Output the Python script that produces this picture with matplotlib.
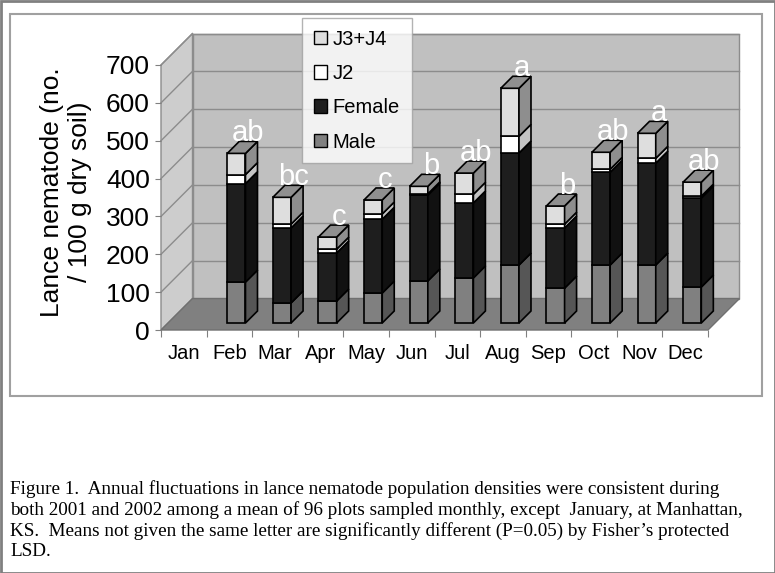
import numpy as np
import matplotlib
matplotlib.use("Agg")
import matplotlib.pyplot as plt
from matplotlib.patches import Polygon, Rectangle, Patch

# data (Jan was not sampled)
months = ["Jan", "Feb", "Mar", "Apr", "May", "Jun", "Jul", "Aug", "Sep", "Oct", "Nov", "Dec"]
male = [np.nan, 108, 53, 58, 79, 111, 119, 153, 92, 153, 153, 95]
female = [np.nan, 260, 198, 127, 195, 227, 198, 296, 159, 245, 269, 235]
j2 = [np.nan, 24, 10, 10, 14, 3, 23, 44, 10, 8, 13, 5]
j3j4 = [np.nan, 56, 71, 32, 37, 20, 56, 127, 48, 45, 66, 37]
letters = ["", "ab", "bc", "c", "c", "b", "ab", "a", "b", "ab", "a", "ab"]
yticks = [0, 100, 200, 300, 400, 500, 600, 700]

caption = [
    "Figure 1.  Annual fluctuations in lance nematode population densities were consistent during",
    "both 2001 and 2002 among a mean of 96 plots sampled monthly, except  January, at Manhattan,",
    "KS.  Means not given the same letter are significantly different (P=0.05) by Fisher\u2019s protected",
    "LSD.",
]

plt.rcParams["font.family"] = ["Liberation Sans", "DejaVu Sans"]

W, H = 775, 573
fig = plt.figure(figsize=(W / 100, H / 100), dpi=100)

# front plane of the pseudo-3d box, in pixels
X0, X1, Y0, Y1 = 161, 708, 330, 65
ax = fig.add_axes([X0 / W, 1 - Y0 / H, (X1 - X0) / W, (Y0 - Y1) / H])
n = len(months)
ax.set_xlim(0, n)
ax.set_ylim(0, 700)
ax.patch.set_visible(False)
for s in ax.spines.values():
    s.set_visible(False)

px = n / (X1 - X0)
py = 700 / (Y0 - Y1)


def proj(x, y, d):
    # shift a front-plane point d pixels back into the box
    return (x + d * px, y + d * py)


DEPTH = 31.5
wall_c, side_c, floor_c, grid_c = "#c0c0c0", "#cdcdcd", "#808080", "#8c8c8c"

back = [proj(0, 0, DEPTH), proj(n, 0, DEPTH), proj(n, 700, DEPTH), proj(0, 700, DEPTH)]
ax.add_patch(Polygon(back, closed=True, facecolor=wall_c, edgecolor=grid_c, lw=1, clip_on=False, zorder=1))
left = [proj(0, 0, 0), proj(0, 700, 0), proj(0, 700, DEPTH), proj(0, 0, DEPTH)]
ax.add_patch(Polygon(left, closed=True, facecolor=side_c, edgecolor=grid_c, lw=1, clip_on=False, zorder=1))
for v in yticks[1:]:
    a, b = proj(0, v, DEPTH), proj(n, v, DEPTH)
    ax.plot([a[0], b[0]], [a[1], b[1]], color=grid_c, lw=1, clip_on=False, zorder=1.5)
    c = proj(0, v, 0)
    ax.plot([c[0], a[0]], [c[1], a[1]], color=grid_c, lw=1, clip_on=False, zorder=1.5)
floor = [proj(0, 0, 0), proj(n, 0, 0), proj(n, 0, DEPTH), proj(0, 0, DEPTH)]
ax.add_patch(Polygon(floor, closed=True, facecolor=floor_c, edgecolor="#707070", lw=1, clip_on=False, zorder=2))

# stacked 3d bars
series = [male, female, j2, j3j4]
fronts = ["#808080", "#1e1e1e", "#ffffff", "#dedede"]
sides = ["#565656", "#111111", "#c4c4c4", "#8e8e8e"]
top_c = "#8f8f8f"
bw = 0.4
d0, d1 = 7, 19
centers = np.arange(n) + 0.5
for i in range(n):
    if np.isnan(male[i]):
        continue
    base = 0.0
    xl = centers[i] - bw / 2
    xr = centers[i] + bw / 2
    for vals, fc, sc in zip(series, fronts, sides):
        v = vals[i]
        fl = proj(xl, base, d0)
        ax.bar(fl[0], v, width=bw, bottom=fl[1], align="edge", color=fc,
               edgecolor="black", lw=1.2, zorder=3, clip_on=False)
        side = [proj(xr, base, d0), proj(xr, base + v, d0), proj(xr, base + v, d1), proj(xr, base, d1)]
        ax.add_patch(Polygon(side, closed=True, facecolor=sc, edgecolor="black", lw=1.2, zorder=3, clip_on=False))
        base += v
    top = [proj(xl, base, d0), proj(xr, base, d0), proj(xr, base, d1), proj(xl, base, d1)]
    ax.add_patch(Polygon(top, closed=True, facecolor=top_c, edgecolor="black", lw=1.2, zorder=3, clip_on=False))
    tx, ty = proj(centers[i], base, d1)
    ax.text(tx, ty + 1, letters[i], ha="center", va="baseline", color="white",
            fontsize=21, zorder=5, clip_on=False)

# axes ticks
ax.set_yticks(yticks)
ax.tick_params(axis="y", length=4, color="#808080", labelsize=19, pad=4)
ax.set_xticks(np.arange(n + 1))
ax.set_xticklabels([])
ax.set_xticks(centers, minor=True)
ax.set_xticklabels(months, minor=True)
ax.tick_params(axis="x", which="major", length=5, color="#808080")
ax.tick_params(axis="x", which="minor", length=0, labelsize=14.5, pad=10)

fig.text(66 / W, 1 - 192 / H, "Lance nematode (no.\n/ 100 g dry soil)", rotation=90,
         ha="center", va="center", fontsize=19, linespacing=1.22, multialignment="center")

handles = [Patch(facecolor=fronts[k], edgecolor="black", lw=1) for k in (3, 2, 1, 0)]
leg = fig.legend(handles, ["J3+J4", "J2", "Female", "Male"], loc="upper left",
                 bbox_to_anchor=(302 / W, 1 - 18 / H), fontsize=14.5, frameon=True,
                 fancybox=False, handlelength=0.65, handleheight=0.65, handletextpad=0.3,
                 labelspacing=0.76, borderpad=0.58, borderaxespad=0)
leg.get_frame().set_edgecolor("#a0a0a0")
leg.get_frame().set_linewidth(1)

# frames
fig.add_artist(Rectangle((10 / W, 1 - 396 / H), 752 / W, 382 / H, transform=fig.transFigure,
                         fill=False, edgecolor="#a0a0a0", lw=1.5))
fig.add_artist(Rectangle((0.5 / W, 0.5 / H), 1 - 1 / W, 1 - 1 / H, transform=fig.transFigure,
                         fill=False, edgecolor="#808080", lw=2))

for k, line in enumerate(caption):
    fig.text(10 / W, 1 - (489 + 21 * k) / H, line, ha="left", va="center",
             fontfamily="Liberation Serif", fontsize=13.8)

fig.savefig("out.png", dpi=100)
